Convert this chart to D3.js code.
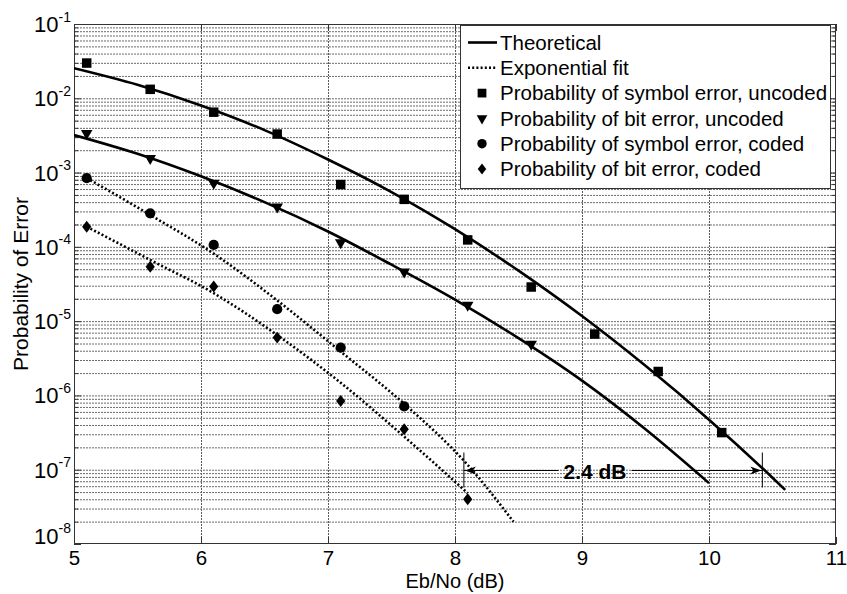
<!DOCTYPE html>
<html><head><meta charset="utf-8">
<script src="https://cdn.jsdelivr.net/npm/d3@7"></script>
<style>
body{margin:0;background:#fff}
text{font-family:"Liberation Sans",Arial,Helvetica,sans-serif;fill:#000}
</style>
</head><body>
<svg id="chart" width="847" height="594"></svg>
<script>
// ---------------- data ----------------
const xTickValues = [5, 6, 7, 8, 9, 10, 11];
const yTickExponents = [-8, -7, -6, -5, -4, -3, -2, -1];

// measured (simulated) points
const ebnoUncoded = [5.1, 5.6, 6.1, 6.6, 7.1, 7.6, 8.1, 8.6, 9.1, 9.6, 10.1];
const symErrUncoded = [2.98e-2, 1.32e-2, 6.5e-3, 3.3e-3, 6.9e-4, 4.36e-4, 1.24e-4, 2.88e-5, 6.7e-6, 2.1e-6, 3.16e-7];
const ebnoBitUncoded = [5.1, 5.6, 6.1, 6.6, 7.1, 7.6, 8.1, 8.6];
const bitErrUncoded = [3.38e-3, 1.56e-3, 7.2e-4, 3.47e-4, 1.14e-4, 4.6e-5, 1.65e-5, 4.9e-6];
const ebnoSymCoded = [5.1, 5.6, 6.1, 6.6, 7.1, 7.6];
const symErrCoded = [8.4e-4, 2.83e-4, 1.06e-4, 1.45e-5, 4.4e-6, 7.1e-7];
const ebnoBitCoded = [5.1, 5.6, 6.1, 6.6, 7.1, 7.6, 8.1];
const bitErrCoded = [1.87e-4, 5.4e-5, 2.92e-5, 6.0e-6, 8.4e-7, 3.5e-7, 4.0e-8];

// theoretical curves
const ebnoTheorySym = [5, 5.5, 6, 6.5, 7, 7.5, 8, 8.5, 9, 9.5, 10, 10.5, 10.6];
const theorySym = [2.54e-2, 1.52e-2, 8.0e-3, 3.73e-3, 1.5e-3, 5.47e-4, 1.73e-4, 4.78e-5, 1.17e-5, 2.5e-6, 4.72e-7, 7.8e-8, 5.35e-8];
const ebnoTheoryBit = [5, 5.5, 6, 6.5, 7, 7.5, 8, 8.5, 9, 9.5, 10];
const theoryBit = [3.2e-3, 1.79e-3, 8.9e-4, 4.0e-4, 1.61e-4, 5.75e-5, 1.95e-5, 5.9e-6, 1.58e-6, 3.5e-7, 6.6e-8];

// exponential fits
const ebnoFitSym = [5.1, 5.6, 6.1, 6.6, 7.1, 7.6, 8.1, 8.46];
const fitSymCoded = [8.45e-4, 2.69e-4, 8.1e-5, 1.9e-5, 3.89e-6, 7.7e-7, 1.16e-7, 2.0e-8];
const ebnoFitBit = [5.1, 5.6, 6.1, 6.6, 7.1, 7.6, 8.1];
const fitBitCoded = [1.87e-4, 6.67e-5, 2.38e-5, 6.5e-6, 1.48e-6, 2.79e-7, 4.83e-8];

// annotation
const gainFrom = 8.07, gainTo = 10.42, gainLevel = 1e-7, gainLabel = "2.4 dB";

const legendLabels = ["Theoretical", "Exponential fit",
  "Probability of symbol error, uncoded", "Probability of bit error, uncoded",
  "Probability of symbol error, coded", "Probability of bit error, coded"];

// ---------------- chart ----------------
const FONT = '"Liberation Sans",Arial,sans-serif';
const svg = d3.select("#chart");
const L = 74, R = 836, T = 24, B = 544;
const x = d3.scaleLinear().domain([5, 11]).range([L, R]);
const y = d3.scaleLog().domain([1e-8, 1e-1]).range([B, T]);
const yMajor = yTickExponents.map(e => Math.pow(10, e));
const isMajor = v => yMajor.some(m => Math.abs(m - v) / m < 1e-6);
const yAll = y.ticks();
const yMinor = yAll.filter(v => !isMajor(v));

const dash = "2,1";

// grid
svg.append("g").attr("transform", `translate(0,${B})`)
  .call(d3.axisBottom(x).tickValues(xTickValues.slice(1, -1)).tickSize(-(B - T)).tickFormat(""))
  .call(g => g.select(".domain").remove())
  .call(g => g.selectAll("line").attr("stroke", "#5a5a5a").attr("stroke-dasharray", dash));
svg.append("g").attr("transform", `translate(${L},0)`)
  .call(d3.axisLeft(y).tickValues(yAll.filter(v => v > 1.001e-8 && v < 0.0999)).tickSize(-(R - L)).tickFormat(""))
  .call(g => g.select(".domain").remove())
  .call(g => g.selectAll("line").attr("stroke", "#6a6a6a").attr("stroke-dasharray", dash));

// ticks (inside, all four sides)
const axisColor = "#333";
function styleAx(g) { g.select(".domain").remove(); g.selectAll("line").attr("stroke", axisColor); }
svg.append("g").attr("transform", `translate(0,${B})`)
  .call(d3.axisBottom(x).tickValues(xTickValues).tickSize(-7).tickFormat("")).call(styleAx);
svg.append("g").attr("transform", `translate(0,${T})`)
  .call(d3.axisTop(x).tickValues(xTickValues).tickSize(-7).tickFormat("")).call(styleAx);
svg.append("g").attr("transform", `translate(${L},0)`)
  .call(d3.axisLeft(y).tickValues(yMajor).tickSize(-7).tickFormat("")).call(styleAx);
svg.append("g").attr("transform", `translate(${L},0)`)
  .call(d3.axisLeft(y).tickValues(yMinor).tickSize(-4).tickFormat("")).call(styleAx);
svg.append("g").attr("transform", `translate(${R},0)`)
  .call(d3.axisRight(y).tickValues(yMajor).tickSize(-7).tickFormat("")).call(styleAx);
svg.append("g").attr("transform", `translate(${R},0)`)
  .call(d3.axisRight(y).tickValues(yMinor).tickSize(-4).tickFormat("")).call(styleAx);

// box
svg.append("rect").attr("x", L + 0.5).attr("y", T + 0.5).attr("width", R - L - 1).attr("height", B - T - 1)
  .attr("fill", "none").attr("stroke", axisColor).attr("stroke-width", 1);

// tick labels
const xLab = svg.append("g").attr("transform", `translate(0,${B})`)
  .call(d3.axisBottom(x).tickValues(xTickValues).tickSize(0).tickPadding(0).tickFormat(d3.format("d")));
xLab.select(".domain").remove();
xLab.selectAll("text").attr("y", 20.5).attr("dy", null).attr("font-size", 20.5)
  .attr("font-family", FONT).attr("fill", "#000");

const yLab = svg.append("g").attr("transform", `translate(${L},0)`)
  .call(d3.axisLeft(y).tickValues(yMajor).tickSize(0).tickFormat(""));
yLab.select(".domain").remove();
yLab.selectAll(".tick").each(function (d) {
  const e = Math.round(Math.log10(d));
  const base = Math.min(7.5, B - 1 - y(d));
  const t = d3.select(this).select("text").text(null)
    .attr("x", -3).attr("y", base).attr("dy", null).attr("text-anchor", "end")
    .attr("font-family", FONT).attr("fill", "#000");
  t.append("tspan").attr("font-size", 22).text("10");
  t.append("tspan").attr("font-size", 14).attr("dy", -10.5).text(String(e));
});

// axis titles
svg.append("text").attr("x", (L + R) / 2).attr("y", 588).attr("text-anchor", "middle")
  .attr("font-size", 20).text("Eb/No (dB)");
svg.append("text").attr("transform", `translate(28,${(T + B) / 2}) rotate(-90)`)
  .attr("text-anchor", "middle").attr("font-size", 21).text("Probability of Error");

// clip
svg.append("clipPath").attr("id", "plotclip").append("rect")
  .attr("x", L).attr("y", T).attr("width", R - L).attr("height", B - T);
const plot = svg.append("g").attr("clip-path", "url(#plotclip)");

const line = d3.line().x(d => x(d[0])).y(d => y(d[1])).curve(d3.curveMonotoneX);
const solid = { stroke: "#000", "stroke-width": 2.6, fill: "none" };
const dotted = { stroke: "#000", "stroke-width": 2.6, fill: "none", "stroke-dasharray": "2,2.2" };
function drawLine(xs, ys, st) {
  const p = plot.append("path").datum(d3.zip(xs, ys)).attr("d", line);
  Object.entries(st).forEach(([k, v]) => p.attr(k, v));
}
drawLine(ebnoTheorySym, theorySym, solid);
drawLine(ebnoTheoryBit, theoryBit, solid);
drawLine(ebnoFitSym, fitSymCoded, dotted);
drawLine(ebnoFitBit, fitBitCoded, dotted);

// markers
const diamondType = {
  draw(ctx, size) {
    const h = Math.sqrt(size / 1.54), w = 0.77 * h;
    ctx.moveTo(0, -h); ctx.lineTo(w, 0); ctx.lineTo(0, h); ctx.lineTo(-w, 0); ctx.closePath();
  }
};
const markerDefs = [
  { type: d3.symbolSquare, size: 90, rot: 0 },
  { type: d3.symbolTriangle, size: 58, rot: 180 },
  { type: d3.symbolCircle, size: 82, rot: 0 },
  { type: diamondType, size: 55, rot: 0 },
];
function drawMarkers(xs, ys, m) {
  plot.append("g").selectAll("path").data(d3.zip(xs, ys)).join("path")
    .attr("d", d3.symbol().type(m.type).size(m.size))
    .attr("transform", d => `translate(${x(d[0])},${y(d[1])}) rotate(${m.rot})`)
    .attr("fill", "#000");
}
drawMarkers(ebnoUncoded, symErrUncoded, markerDefs[0]);
drawMarkers(ebnoBitUncoded, bitErrUncoded, markerDefs[1]);
drawMarkers(ebnoSymCoded, symErrCoded, markerDefs[2]);
drawMarkers(ebnoBitCoded, bitErrCoded, markerDefs[3]);

// annotation: 2.4 dB double arrow
const ay = Math.round(y(gainLevel)) + 0.5;
const ax1 = x(gainFrom), ax2 = x(gainTo);
const ann = svg.append("g");
const lbl = ann.append("text").attr("x", 595).attr("y", ay + 8).attr("text-anchor", "middle")
  .attr("font-size", 21).attr("font-weight", "bold").text(gainLabel);
const bb = lbl.node().getBBox();
ann.append("line").attr("x1", ax1).attr("x2", bb.x - 5).attr("y1", ay).attr("y2", ay).attr("stroke", "#000").attr("stroke-width", 1);
ann.append("line").attr("x1", bb.x + bb.width + 5).attr("x2", ax2).attr("y1", ay).attr("y2", ay).attr("stroke", "#000").attr("stroke-width", 1);
[ax1, ax2].forEach(xx => ann.append("line").attr("x1", xx).attr("x2", xx)
  .attr("y1", ay - 18).attr("y2", ay + 17).attr("stroke", "#000").attr("stroke-width", 1));
ann.append("path").attr("d", `M${ax1 + 1},${ay} L${ax1 + 12},${ay - 4} L${ax1 + 9},${ay} L${ax1 + 12},${ay + 4} Z`).attr("fill", "#000");
ann.append("path").attr("d", `M${ax2 - 1},${ay} L${ax2 - 12},${ay - 4} L${ax2 - 9},${ay} L${ax2 - 12},${ay + 4} Z`).attr("fill", "#000");

// legend
const lg = svg.append("g");
lg.append("rect").attr("x", 460.5).attr("y", 25.5).attr("width", 370).attr("height", 163)
  .attr("fill", "#fff").attr("stroke", "#333").attr("stroke-width", 1);
legendLabels.forEach((t, i) => {
  const cy = 42.5 + i * 25.3;
  lg.append("text").attr("x", 500).attr("y", cy).attr("dy", "0.35em").attr("font-size", 20.5).text(t);
  if (i === 0) {
    lg.append("line").attr("x1", 468).attr("x2", 497).attr("y1", cy).attr("y2", cy)
      .attr("stroke", "#000").attr("stroke-width", 2.6);
  } else if (i === 1) {
    lg.append("line").attr("x1", 468).attr("x2", 497).attr("y1", cy).attr("y2", cy)
      .attr("stroke", "#000").attr("stroke-width", 2.6).attr("stroke-dasharray", "2,2.2");
  } else {
    const m = markerDefs[i - 2];
    lg.append("path").attr("d", d3.symbol().type(m.type).size(m.size * 0.85))
      .attr("transform", `translate(482,${cy}) rotate(${m.rot})`).attr("fill", "#000");
  }
});
</script>
</body></html>
